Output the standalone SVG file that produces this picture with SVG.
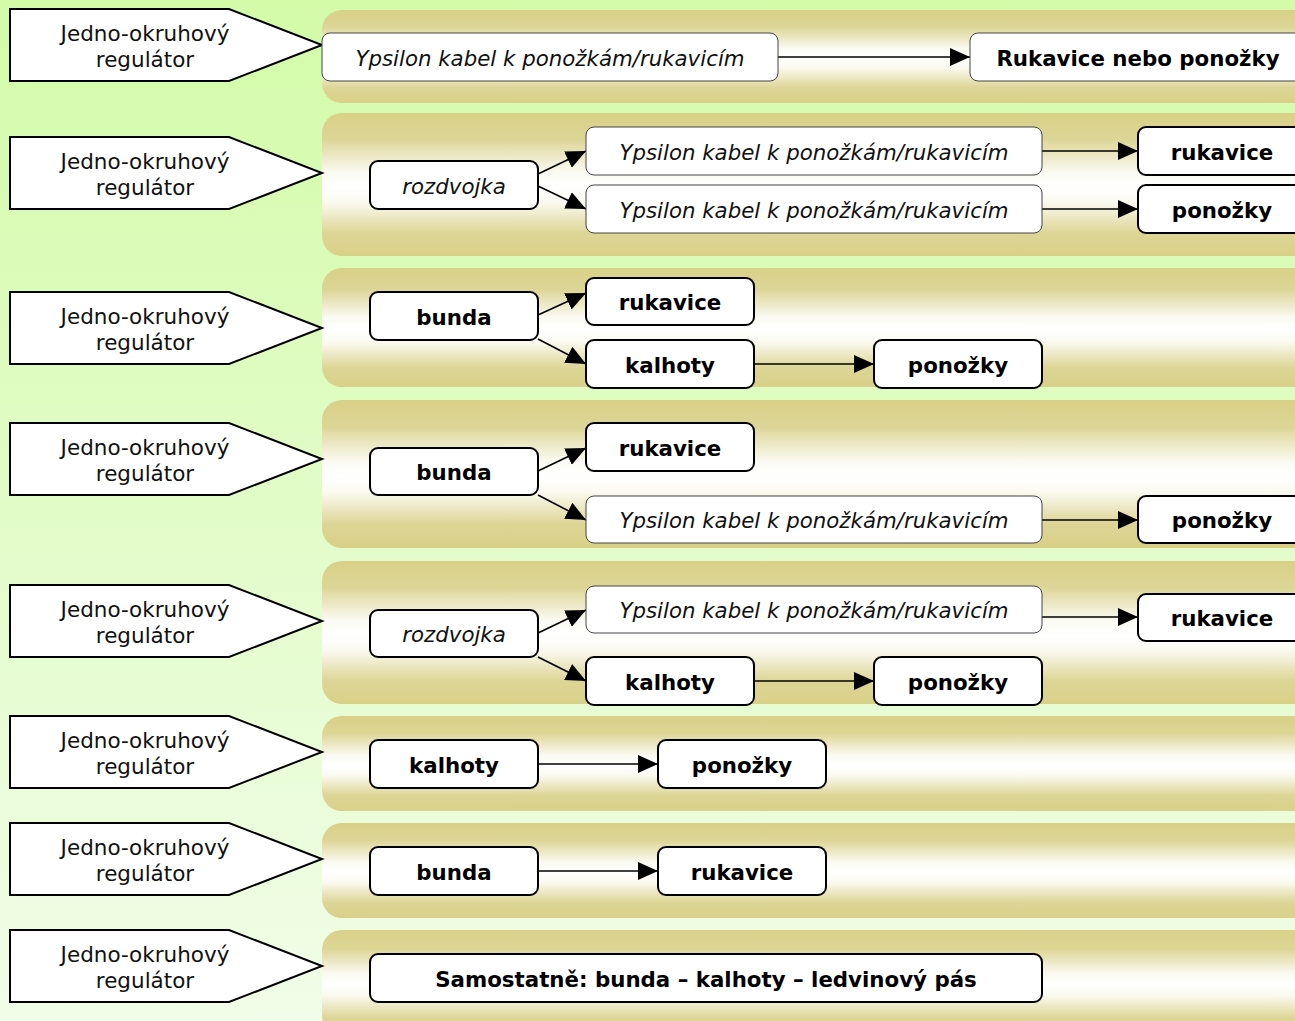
<svg xmlns="http://www.w3.org/2000/svg" width="1295" height="1021" viewBox="0 0 1295 1021">
<defs>
<linearGradient id="bg" x1="0" y1="0" x2="0" y2="1">
<stop offset="0" stop-color="#d3fba8"/>
<stop offset="1" stop-color="#f1fde8"/>
</linearGradient>
<linearGradient id="band" x1="0" y1="0" x2="0" y2="1">
<stop offset="0" stop-color="#d9d088"/>
<stop offset="0.18" stop-color="#ddd595"/>
<stop offset="0.42" stop-color="#fbfbf4"/>
<stop offset="0.52" stop-color="#ffffff"/>
<stop offset="0.62" stop-color="#fbfaf1"/>
<stop offset="0.84" stop-color="#ddd595"/>
<stop offset="1" stop-color="#d9d088"/>
</linearGradient>
<marker id="ah" markerUnits="userSpaceOnUse" markerWidth="20" markerHeight="18" refX="20" refY="9" orient="auto">
<path d="M0,0 L20,9 L0,18 Z" fill="#000"/>
</marker>
</defs>
<style>
.band{fill:url(#band)}
.reg{fill:#fff;stroke:#000;stroke-width:2}
.regt{font-family:"DejaVu Sans",Verdana,sans-serif;font-size:21.5px;fill:#111;text-anchor:middle}
.nb{fill:#fff;stroke:#000;stroke-width:2}
.ni{fill:#fff;stroke:#444;stroke-width:1}
.tb{font-family:"DejaVu Sans",Verdana,sans-serif;font-size:21.33px;font-weight:bold;fill:#000;text-anchor:middle}
.ti{font-family:"DejaVu Sans",Verdana,sans-serif;font-size:21.33px;font-style:italic;fill:#111;text-anchor:middle}
.c{stroke:#000;stroke-width:1.6;fill:none;marker-end:url(#ah)}
</style>
<rect x="0" y="0" width="1295" height="1021" fill="url(#bg)"/>
<g id="bands">
<rect class="band" x="322" y="10" width="1000" height="93" rx="20"/>
<rect class="band" x="322" y="113" width="1000" height="143" rx="20"/>
<rect class="band" x="322" y="268" width="1000" height="119" rx="20"/>
<rect class="band" x="322" y="400" width="1000" height="148" rx="20"/>
<rect class="band" x="322" y="561" width="1000" height="143" rx="20"/>
<rect class="band" x="322" y="716" width="1000" height="95" rx="20"/>
<rect class="band" x="322" y="823" width="1000" height="95" rx="20"/>
<rect class="band" x="322" y="930" width="1000" height="105" rx="20"/>
</g>
<g id="reg1"><path class="reg" d="M10,9 H229 L322,45 L229,81 H10 Z"/><text class="regt" x="145" y="41">Jedno-okruhový</text><text class="regt" x="145" y="67">regulátor</text></g>
<g id="reg2"><path class="reg" d="M10,137 H229 L322,173 L229,209 H10 Z"/><text class="regt" x="145" y="169">Jedno-okruhový</text><text class="regt" x="145" y="195">regulátor</text></g>
<g id="reg3"><path class="reg" d="M10,292 H229 L322,328 L229,364 H10 Z"/><text class="regt" x="145" y="324">Jedno-okruhový</text><text class="regt" x="145" y="350">regulátor</text></g>
<g id="reg4"><path class="reg" d="M10,423 H229 L322,459 L229,495 H10 Z"/><text class="regt" x="145" y="455">Jedno-okruhový</text><text class="regt" x="145" y="481">regulátor</text></g>
<g id="reg5"><path class="reg" d="M10,585 H229 L322,621 L229,657 H10 Z"/><text class="regt" x="145" y="617">Jedno-okruhový</text><text class="regt" x="145" y="643">regulátor</text></g>
<g id="reg6"><path class="reg" d="M10,716 H229 L322,752 L229,788 H10 Z"/><text class="regt" x="145" y="748">Jedno-okruhový</text><text class="regt" x="145" y="774">regulátor</text></g>
<g id="reg7"><path class="reg" d="M10,823 H229 L322,859 L229,895 H10 Z"/><text class="regt" x="145" y="855">Jedno-okruhový</text><text class="regt" x="145" y="881">regulátor</text></g>
<g id="reg8"><path class="reg" d="M10,930 H229 L322,966 L229,1002 H10 Z"/><text class="regt" x="145" y="962">Jedno-okruhový</text><text class="regt" x="145" y="988">regulátor</text></g>

<g id="connectors">
<line class="c" x1="778" y1="57" x2="970" y2="57"/>
<line class="c" x1="538" y1="174" x2="586" y2="151"/>
<line class="c" x1="538" y1="186" x2="586" y2="209"/>
<line class="c" x1="1042" y1="151" x2="1138" y2="151"/>
<line class="c" x1="1042" y1="209" x2="1138" y2="209"/>
<line class="c" x1="538" y1="315" x2="586" y2="293"/>
<line class="c" x1="538" y1="339" x2="586" y2="364"/>
<line class="c" x1="754" y1="364" x2="874" y2="364"/>
<line class="c" x1="538" y1="471" x2="586" y2="448"/>
<line class="c" x1="538" y1="495" x2="586" y2="520"/>
<line class="c" x1="1042" y1="520" x2="1138" y2="520"/>
<line class="c" x1="538" y1="633" x2="586" y2="610"/>
<line class="c" x1="538" y1="657" x2="586" y2="681"/>
<line class="c" x1="1042" y1="617" x2="1138" y2="617"/>
<line class="c" x1="754" y1="681" x2="874" y2="681"/>
<line class="c" x1="538" y1="764" x2="658" y2="764"/>
<line class="c" x1="538" y1="871" x2="658" y2="871"/>
</g>

<g id="n1a"><rect class="ni" x="322" y="33" width="456" height="48" rx="8"/><text class="ti" x="550" y="66">Ypsilon kabel k ponožkám/rukavicím</text></g>
<g id="n1b"><rect class="ni" x="970" y="33" width="340" height="48" rx="8"/><text class="tb" x="1138" y="66">Rukavice nebo ponožky</text></g>

<g id="n2a"><rect class="nb" x="370" y="161" width="168" height="48" rx="8"/><text class="ti" x="454" y="194">rozdvojka</text></g>
<g id="n2b"><rect class="ni" x="586" y="127" width="456" height="48" rx="8"/><text class="ti" x="814" y="160">Ypsilon kabel k ponožkám/rukavicím</text></g>
<g id="n2c"><rect class="ni" x="586" y="185" width="456" height="48" rx="8"/><text class="ti" x="814" y="218">Ypsilon kabel k ponožkám/rukavicím</text></g>
<g id="n2d"><rect class="nb" x="1138" y="127" width="168" height="48" rx="8"/><text class="tb" x="1222" y="160">rukavice</text></g>
<g id="n2e"><rect class="nb" x="1138" y="185" width="168" height="48" rx="8"/><text class="tb" x="1222" y="218">ponožky</text></g>

<g id="n3a"><rect class="nb" x="370" y="292" width="168" height="48" rx="8"/><text class="tb" x="454" y="325">bunda</text></g>
<g id="n3b"><rect class="nb" x="586" y="278" width="168" height="47" rx="8"/><text class="tb" x="670" y="310">rukavice</text></g>
<g id="n3c"><rect class="nb" x="586" y="340" width="168" height="48" rx="8"/><text class="tb" x="670" y="373">kalhoty</text></g>
<g id="n3d"><rect class="nb" x="874" y="340" width="168" height="48" rx="8"/><text class="tb" x="958" y="373">ponožky</text></g>

<g id="n4a"><rect class="nb" x="370" y="448" width="168" height="47" rx="8"/><text class="tb" x="454" y="480">bunda</text></g>
<g id="n4b"><rect class="nb" x="586" y="423" width="168" height="48" rx="8"/><text class="tb" x="670" y="456">rukavice</text></g>
<g id="n4c"><rect class="ni" x="586" y="496" width="456" height="47" rx="8"/><text class="ti" x="814" y="528">Ypsilon kabel k ponožkám/rukavicím</text></g>
<g id="n4d"><rect class="nb" x="1138" y="496" width="168" height="47" rx="8"/><text class="tb" x="1222" y="528">ponožky</text></g>

<g id="n5a"><rect class="nb" x="370" y="610" width="168" height="47" rx="8"/><text class="ti" x="454" y="642">rozdvojka</text></g>
<g id="n5b"><rect class="ni" x="586" y="586" width="456" height="47" rx="8"/><text class="ti" x="814" y="618">Ypsilon kabel k ponožkám/rukavicím</text></g>
<g id="n5c"><rect class="nb" x="1138" y="594" width="168" height="47" rx="8"/><text class="tb" x="1222" y="626">rukavice</text></g>
<g id="n5d"><rect class="nb" x="586" y="657" width="168" height="48" rx="8"/><text class="tb" x="670" y="690">kalhoty</text></g>
<g id="n5e"><rect class="nb" x="874" y="657" width="168" height="48" rx="8"/><text class="tb" x="958" y="690">ponožky</text></g>

<g id="n6a"><rect class="nb" x="370" y="740" width="168" height="48" rx="8"/><text class="tb" x="454" y="773">kalhoty</text></g>
<g id="n6b"><rect class="nb" x="658" y="740" width="168" height="48" rx="8"/><text class="tb" x="742" y="773">ponožky</text></g>

<g id="n7a"><rect class="nb" x="370" y="847" width="168" height="48" rx="8"/><text class="tb" x="454" y="880">bunda</text></g>
<g id="n7b"><rect class="nb" x="658" y="847" width="168" height="48" rx="8"/><text class="tb" x="742" y="880">rukavice</text></g>

<g id="n8a"><rect class="nb" x="370" y="954" width="672" height="48" rx="8"/><text class="tb" x="706" y="987">Samostatně: bunda – kalhoty – ledvinový pás</text></g>
</svg>
